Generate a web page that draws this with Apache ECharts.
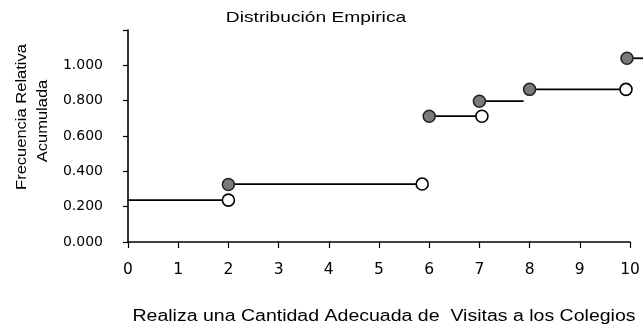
<!DOCTYPE html>
<html>
<head>
<meta charset="utf-8">
<script src="https://cdn.jsdelivr.net/npm/echarts@6/dist/echarts.min.js"></script>
<style>
html,body{margin:0;padding:0;background:#fff;}
#chart{width:643px;height:329px;}
</style>
</head>
<body>
<div id="chart"></div>
<script>
// ---- data ----
const titleText = 'Distribución Empirica';
const xAxisTitle = 'Realiza una Cantidad Adecuada de  Visitas a los Colegios';
const yAxisTitle1 = 'Frecuencia Relativa';
const yAxisTitle2 = 'Acumulada';
const xTickLabels = ['0','1','2','3','4','5','6','7','8','9','10'];
const yTickLabels = ['0.000','0.200','0.400','0.600','0.800','1.000',''];
// horizontal step segments
const stepStartX = [0, 2, 6, 7, 8, 9.94];
const stepEndX   = [2, 5.86, 7.05, 7.88, 9.92, 10.35];
const stepY      = [0.237, 0.328, 0.712, 0.797, 0.864, 1.04];
// filled (closed) points
const filledX = [2, 6, 7, 8, 9.94];
const filledY = [0.325, 0.712, 0.797, 0.864, 1.04];
// open points
const openX = [2, 5.86, 7.05, 9.92];
const openY = [0.237, 0.328, 0.712, 0.864];

const FONT = '"Liberation Sans", Arial, sans-serif';
const TICKFONT = '"DejaVu Sans", sans-serif';
const chart = echarts.init(document.getElementById('chart'), null, {renderer:'canvas'});

chart.setOption({
  animation: false,
  backgroundColor: '#fff',
  grid: {left: 128, right: 13, top: 30, bottom: 87},
  xAxis: {
    type: 'value', min: 0, max: 10, interval: 1,
    axisLine: {show: true, lineStyle: {color: '#000', width: 1.6}},
    axisTick: {show: true, inside: false, length: 6, lineStyle: {color: '#000', width: 1.2}},
    axisLabel: {
      margin: 20, color: '#000', fontSize: 15.5, fontFamily: TICKFONT,
      formatter: (v) => xTickLabels[Math.round(v)] ?? ''
    },
    splitLine: {show: false}
  },
  yAxis: {
    type: 'value', min: 0, max: 1.2, interval: 0.2,
    axisLine: {show: true, lineStyle: {color: '#000', width: 1.6}},
    axisTick: {show: true, inside: false, length: 5, lineStyle: {color: '#000', width: 1.2}},
    axisLabel: {
      margin: 25, color: '#000', fontSize: 14, fontFamily: TICKFONT,
      formatter: (v) => yTickLabels[Math.round(v / 0.2)] ?? ''
    },
    splitLine: {show: false}
  },
  graphic: [
    {type: 'text', x: 316, y: 18, scaleX: 1.28, style: {text: titleText, fill: '#000', font: '15px ' + FONT, textAlign: 'center', textVerticalAlign: 'middle'}},
    {type: 'text', x: 384, y: 317, scaleX: 1.22, style: {text: xAxisTitle, fill: '#000', font: '16px ' + FONT, textAlign: 'center', textVerticalAlign: 'middle'}},
    {type: 'text', x: 22, y: 117, rotation: Math.PI / 2, scaleX: 1.1, style: {text: yAxisTitle1, fill: '#000', font: '15px ' + FONT, textAlign: 'center', textVerticalAlign: 'middle'}},
    {type: 'text', x: 43, y: 121, rotation: Math.PI / 2, scaleX: 1.1, style: {text: yAxisTitle2, fill: '#000', font: '15px ' + FONT, textAlign: 'center', textVerticalAlign: 'middle'}}
  ],
  series: [
    {
      type: 'custom',
      clip: false,
      data: stepStartX.map((x0, i) => [x0, stepEndX[i], stepY[i]]),
      encode: {x: [0, 1], y: 2},
      renderItem: (params, api) => {
        const p0 = api.coord([api.value(0), api.value(2)]);
        const p1 = api.coord([api.value(1), api.value(2)]);
        return {
          type: 'line',
          shape: {x1: p0[0], y1: p0[1], x2: p1[0], y2: p1[1]},
          style: {stroke: '#000', lineWidth: 1.8}
        };
      },
      z: 2,
      silent: true
    },
    {
      type: 'scatter',
      data: filledX.map((x, i) => [x, filledY[i]]),
      symbol: 'circle', symbolSize: 12, clip: false,
      itemStyle: {color: '#7a7a7a', borderColor: '#222', borderWidth: 1.5, opacity: 1},
      z: 5
    },
    {
      type: 'scatter',
      data: openX.map((x, i) => [x, openY[i]]),
      symbol: 'circle', symbolSize: 12, clip: false,
      itemStyle: {color: '#fff', borderColor: '#000', borderWidth: 1.6, opacity: 1},
      z: 5
    }
  ]
});
</script>
</body>
</html>
